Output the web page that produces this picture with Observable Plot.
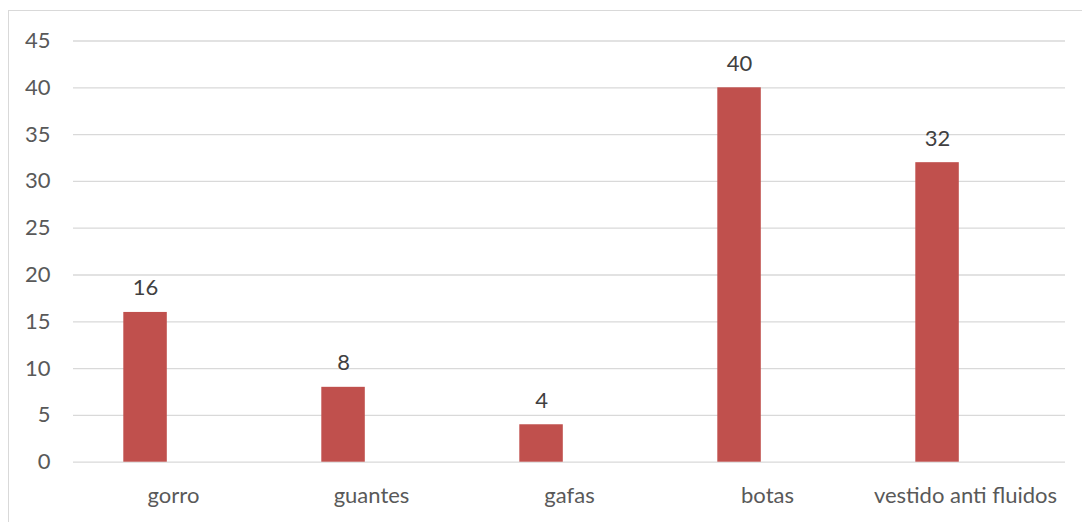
<!DOCTYPE html>
<html>
<head>
<meta charset="utf-8">
<script src="https://cdn.jsdelivr.net/npm/d3@7"></script>
<script src="https://cdn.jsdelivr.net/npm/@observablehq/plot@0.6"></script>
<style>
  html, body { margin: 0; padding: 0; background: #fff; }
  #wrap { position: relative; width: 1082px; height: 522px; overflow: hidden; }
  #frame { position: absolute; left: 8px; top: 10px; width: 1200px; height: 600px; border: 1.5px solid #d9d9d9; box-sizing: border-box; }
  #chart { position: absolute; left: 0; top: 0; }
</style>
</head>
<body>
<div id="wrap"><div id="frame"></div><div id="chart"></div></div>
<script>
const categories = ["gorro", "guantes", "gafas", "botas", "vestido anti fluidos"];
const values = [16, 8, 4, 40, 32];
const yTicks = [0, 5, 10, 15, 20, 25, 30, 35, 40, 45];

const data = categories.map((c, i) => ({category: c, value: values[i]}));
const font = "Lato, 'Open Sans', sans-serif";

const chart = Plot.plot({
  width: 1082,
  height: 522,
  marginLeft: 73,
  marginRight: 17,
  marginTop: 40.5,
  marginBottom: 60.3,
  style: {fontFamily: font, fontSize: "22px", background: "transparent", overflow: "visible"},
  x: {type: "band", domain: categories, padding: 0, label: null},
  y: {domain: [0, 45], label: null},
  marks: [
    Plot.gridY(yTicks, {stroke: "#d9d9d9", strokeOpacity: 1, strokeWidth: 1.3}),
    Plot.axisY(yTicks, {tickSize: 0, tickPadding: 23, color: "#595959", fontSize: 22, label: null}),
    Plot.axisX({tickSize: 0, tickPadding: 25.4, color: "#595959", fontSize: 22, label: null}),
    Plot.barY(data, {x: "category", y: "value", fill: "#C0504D", insetLeft: 49.3, insetRight: 105.2}),
    Plot.text(data, {x: "category", y: "value", text: d => String(d.value), dx: -28, dy: -17, lineAnchor: "bottom", fill: "#404040", fontSize: 22})
  ]
});
document.getElementById("chart").appendChild(chart);
</script>
</body>
</html>
